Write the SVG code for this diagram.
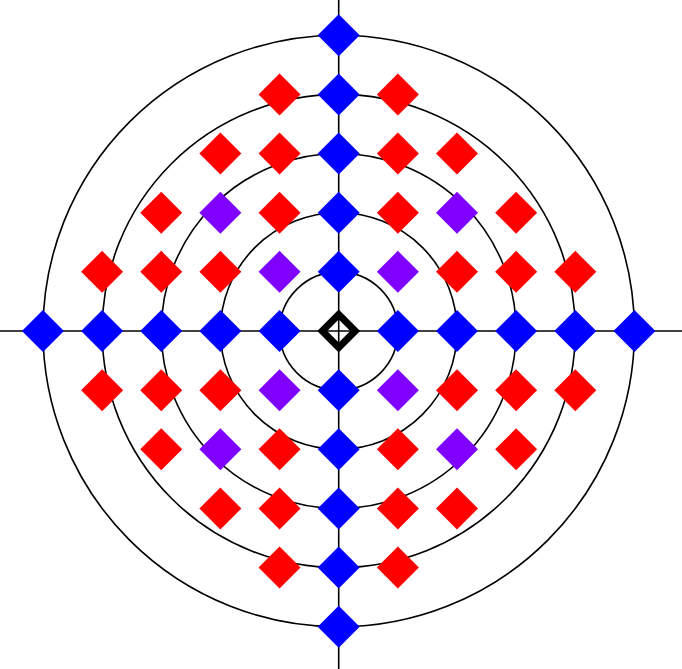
<svg xmlns="http://www.w3.org/2000/svg" xmlns:xlink="http://www.w3.org/1999/xlink" width="682" height="669" viewBox="0 0 682 669">
<style>
.ring{fill:none;stroke:#000;stroke-width:1.6}
.axis{stroke:#000;stroke-width:1.6}
.b{fill:#0000ff}
.r{fill:#ff0000}
.p{fill:#7f00ff}
.c{fill:none;stroke:#000;stroke-width:7}
</style>
<defs>
<path id="d" d="M0,-21L21,0L0,21L-21,0Z"/>
</defs>
<rect width="682" height="669" fill="#fff"/>
<g id="connectors">
<circle class="ring" cx="338.7" cy="331" r="59.15"/>
<circle class="ring" cx="338.7" cy="331" r="118.3"/>
<circle class="ring" cx="338.7" cy="331" r="177.45"/>
<circle class="ring" cx="338.7" cy="331" r="236.6"/>
<circle class="ring" cx="338.7" cy="331" r="295.75"/>
<line class="axis" x1="0" y1="331" x2="682" y2="331"/>
<line class="axis" x1="338.7" y1="0" x2="338.7" y2="669"/>
</g>
<g id="center"><path class="c" d="M338.7,314.5L355.2,331L338.7,347.5L322.2,331Z"/></g>
<g id="blue-nodes" class="b">
<g id="b-x-5"><use href="#d" x="42.95" y="331"/></g>
<g id="b-x-4"><use href="#d" x="102.1" y="331"/></g>
<g id="b-x-3"><use href="#d" x="161.25" y="331"/></g>
<g id="b-x-2"><use href="#d" x="220.4" y="331"/></g>
<g id="b-x-1"><use href="#d" x="279.55" y="331"/></g>
<g id="b-x1"><use href="#d" x="397.85" y="331"/></g>
<g id="b-x2"><use href="#d" x="457" y="331"/></g>
<g id="b-x3"><use href="#d" x="516.15" y="331"/></g>
<g id="b-x4"><use href="#d" x="575.3" y="331"/></g>
<g id="b-x5"><use href="#d" x="634.45" y="331"/></g>
<g id="b-y-5"><use href="#d" x="338.7" y="35.25"/></g>
<g id="b-y-4"><use href="#d" x="338.7" y="94.4"/></g>
<g id="b-y-3"><use href="#d" x="338.7" y="153.55"/></g>
<g id="b-y-2"><use href="#d" x="338.7" y="212.7"/></g>
<g id="b-y-1"><use href="#d" x="338.7" y="271.85"/></g>
<g id="b-y1"><use href="#d" x="338.7" y="390.15"/></g>
<g id="b-y2"><use href="#d" x="338.7" y="449.3"/></g>
<g id="b-y3"><use href="#d" x="338.7" y="508.45"/></g>
<g id="b-y4"><use href="#d" x="338.7" y="567.6"/></g>
<g id="b-y5"><use href="#d" x="338.7" y="626.75"/></g>
</g>
<g id="purple-nodes" class="p">
<g id="p1"><use href="#d" x="279.55" y="271.85"/></g>
<g id="p2"><use href="#d" x="397.85" y="271.85"/></g>
<g id="p3"><use href="#d" x="279.55" y="390.15"/></g>
<g id="p4"><use href="#d" x="397.85" y="390.15"/></g>
<g id="p5"><use href="#d" x="220.4" y="212.7"/></g>
<g id="p6"><use href="#d" x="457" y="212.7"/></g>
<g id="p7"><use href="#d" x="220.4" y="449.3"/></g>
<g id="p8"><use href="#d" x="457" y="449.3"/></g>
</g>
<g id="red-nodes" class="r">
<g id="r1"><use href="#d" x="279.55" y="94.4"/></g>
<g id="r2"><use href="#d" x="397.85" y="94.4"/></g>
<g id="r3"><use href="#d" x="220.4" y="153.55"/></g>
<g id="r4"><use href="#d" x="279.55" y="153.55"/></g>
<g id="r5"><use href="#d" x="397.85" y="153.55"/></g>
<g id="r6"><use href="#d" x="457" y="153.55"/></g>
<g id="r7"><use href="#d" x="161.25" y="212.7"/></g>
<g id="r8"><use href="#d" x="279.55" y="212.7"/></g>
<g id="r9"><use href="#d" x="397.85" y="212.7"/></g>
<g id="r10"><use href="#d" x="516.15" y="212.7"/></g>
<g id="r11"><use href="#d" x="102.1" y="271.85"/></g>
<g id="r12"><use href="#d" x="161.25" y="271.85"/></g>
<g id="r13"><use href="#d" x="220.4" y="271.85"/></g>
<g id="r14"><use href="#d" x="457" y="271.85"/></g>
<g id="r15"><use href="#d" x="516.15" y="271.85"/></g>
<g id="r16"><use href="#d" x="575.3" y="271.85"/></g>
<g id="r17"><use href="#d" x="102.1" y="390.15"/></g>
<g id="r18"><use href="#d" x="161.25" y="390.15"/></g>
<g id="r19"><use href="#d" x="220.4" y="390.15"/></g>
<g id="r20"><use href="#d" x="457" y="390.15"/></g>
<g id="r21"><use href="#d" x="516.15" y="390.15"/></g>
<g id="r22"><use href="#d" x="575.3" y="390.15"/></g>
<g id="r23"><use href="#d" x="161.25" y="449.3"/></g>
<g id="r24"><use href="#d" x="279.55" y="449.3"/></g>
<g id="r25"><use href="#d" x="397.85" y="449.3"/></g>
<g id="r26"><use href="#d" x="516.15" y="449.3"/></g>
<g id="r27"><use href="#d" x="220.4" y="508.45"/></g>
<g id="r28"><use href="#d" x="279.55" y="508.45"/></g>
<g id="r29"><use href="#d" x="397.85" y="508.45"/></g>
<g id="r30"><use href="#d" x="457" y="508.45"/></g>
<g id="r31"><use href="#d" x="279.55" y="567.6"/></g>
<g id="r32"><use href="#d" x="397.85" y="567.6"/></g>
</g>
</svg>
